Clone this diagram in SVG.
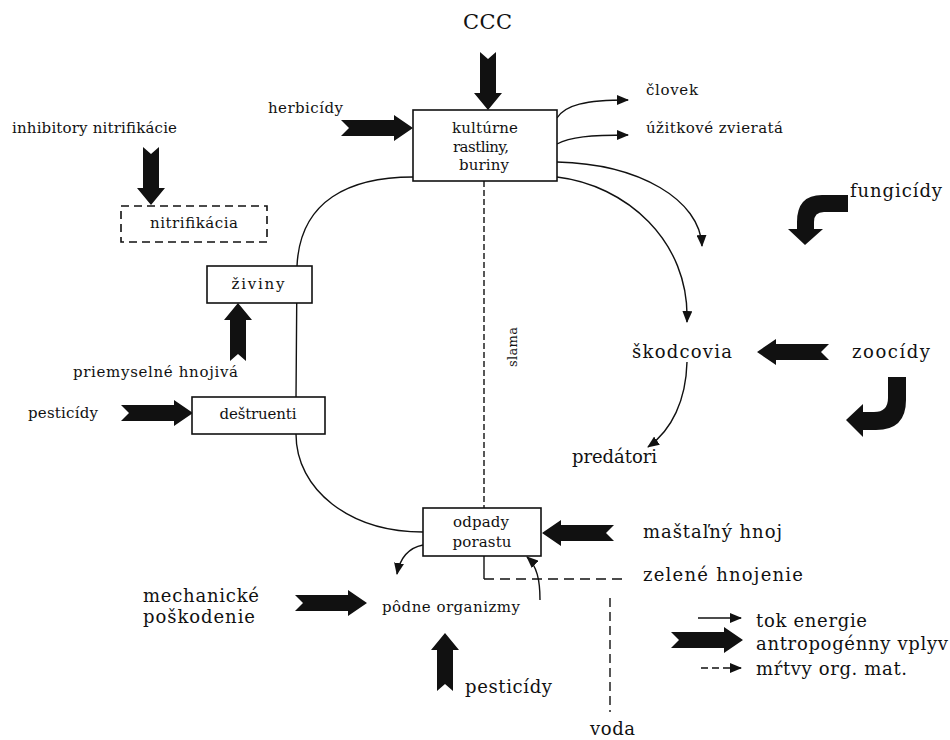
<svg xmlns="http://www.w3.org/2000/svg" xmlns:xlink="http://www.w3.org/1999/xlink" width="950" height="740" viewBox="0 0 950 740">
<style>
text{font-family:"DejaVu Serif","Liberation Serif",serif;fill:#111}
.s{font-size:15px}
.xs{font-size:13px}
.l{font-size:18px}
.box{fill:#fff;stroke:#111;stroke-width:1.6}
.ln{fill:none;stroke:#111;stroke-width:1.4}
.ar{fill:none;stroke:#111;stroke-width:1.4;marker-end:url(#ah)}
.fat{fill:#111}
</style>
<defs>
<marker id="ah" viewBox="0 0 12 10" refX="11" refY="5" markerWidth="12" markerHeight="10" markerUnits="userSpaceOnUse" orient="auto">
<path d="M0,0 L12,5 L0,10 Z" fill="#111"/>
</marker>
<path id="fa72" d="M0,0 L-19,-13 L-19,-8 L-72,-8 L-64,0 L-72,8 L-19,8 L-19,13 Z"/>
<path id="fa58" d="M0,0 L-17,-14 L-17,-8 L-58,-8 L-51,0 L-58,8 L-17,8 L-17,14 Z"/>
</defs>
<rect width="950" height="740" fill="#fff"/>

<g id="connectors">
<path class="ar" d="M557,118 C565,105 585,100 628,100"/>
<path class="ar" d="M557,144 C570,137 590,135 628,135"/>
<path class="ar" d="M557,162 C640,164 700,200 702,246"/>
<path class="ar" d="M557,177 C625,185 690,240 687,322"/>
<path class="ar" d="M687,362 C686,400 672,430 648,447"/>
<path class="ln" d="M413,177 C350,177 300,200 297,266 L296,398"/>
<path class="ln" d="M296,434 C296,490 350,532 423,532"/>
<path class="ar" d="M423,545 C408,548 400,558 397,574"/>
<path class="ar" d="M540,600 C540,580 537,566 527,557"/>
<path class="ln" d="M484,181 L484,508" stroke-dasharray="6 3"/>
<path class="ln" d="M484,556 L484,579"/>
<path class="ln" d="M484,579 L628,579" stroke-dasharray="10 6"/>
<path class="ln" d="M610,598 L610,712" stroke-dasharray="9 5"/>
<use xlink:href="#fa58" class="fat" transform="translate(488,110) rotate(90)"/>
<use xlink:href="#fa72" class="fat" transform="translate(413,128)"/>
<use xlink:href="#fa58" class="fat" transform="translate(151,205) rotate(90)"/>
<use xlink:href="#fa58" class="fat" transform="translate(238,303) rotate(-90)"/>
<use xlink:href="#fa72" class="fat" transform="translate(193,413)"/>
<use xlink:href="#fa72" class="fat" transform="translate(757,352) rotate(180)"/>
<use xlink:href="#fa72" class="fat" transform="translate(367,603)"/>
<use xlink:href="#fa58" class="fat" transform="translate(445,633) rotate(-90)"/>
<use xlink:href="#fa72" class="fat" transform="translate(542,533) rotate(180)"/>
<path class="fat" d="M848,195 L822,195 Q797,195 797,222 L797,229 L788,229 L805,245 L823,229 L814,229 L814,222 Q814,212 824,212 L848,212 Z"/>
<path class="fat" d="M888,377 L906,377 L906,400 Q906,430 876,430 L863,430 L863,437 L846,420 L863,404 L863,412 L874,412 Q888,412 888,398 Z"/>
</g>

<g id="n-kulturne">
<rect class="box" x="413" y="110" width="144" height="71"/>
<text class="s" x="485" y="133" text-anchor="middle" textLength="66">kultúrne</text>
<text class="s" x="481" y="152" text-anchor="middle" textLength="56">rastliny,</text>
<text class="s" x="484" y="170" text-anchor="middle" textLength="50">buriny</text>
</g>
<g id="n-nitrifikacia">
<rect class="box" x="121" y="206" width="146" height="36" stroke-dasharray="8 5"/>
<text class="s" x="194" y="228" text-anchor="middle" textLength="88">nitrifikácia</text>
</g>
<g id="n-ziviny">
<rect class="box" x="207" y="266" width="105" height="37"/>
<text class="s" x="258" y="289" text-anchor="middle" textLength="53">živiny</text>
</g>
<g id="n-destruenti">
<rect class="box" x="192" y="397" width="133" height="37"/>
<text class="s" x="258" y="419" text-anchor="middle" textLength="77">deštruenti</text>
</g>
<g id="n-odpady">
<rect class="box" x="423" y="508" width="118" height="48"/>
<text class="s" x="481" y="527" text-anchor="middle" textLength="56">odpady</text>
<text class="s" x="482" y="547" text-anchor="middle" textLength="59">porastu</text>
</g>

<g id="n-ccc"><text x="463" y="29" font-size="21" textLength="49">CCC</text></g>
<g id="n-herbicidy"><text class="s" x="268" y="113" textLength="75">herbicídy</text></g>
<g id="n-inhibitory"><text class="s" x="12" y="133" textLength="165">inhibitory nitrifikácie</text></g>
<g id="n-clovek"><text class="s" x="646" y="95" textLength="52">človek</text></g>
<g id="n-zvierata"><text class="s" x="646" y="133" textLength="137">úžitkové zvieratá</text></g>
<g id="n-fungicidy"><text class="l" x="850" y="197" textLength="92">fungicídy</text></g>
<g id="n-skodcovia"><text class="l" x="632" y="358" textLength="100">škodcovia</text></g>
<g id="n-zoocidy"><text class="l" x="852" y="358" textLength="78">zoocídy</text></g>
<g id="n-predatori"><text class="l" x="572" y="463" textLength="85">predátori</text></g>
<g id="n-slama"><text class="xs" transform="translate(517,347) rotate(-90)" text-anchor="middle" textLength="40">slama</text></g>
<g id="n-priemyselne"><text class="s" x="73" y="377" textLength="165">priemyselné hnojivá</text></g>
<g id="n-pesticidy1"><text class="s" x="28" y="418" textLength="70">pesticídy</text></g>
<g id="n-mechanicke">
<text class="l" x="143" y="602" textLength="116">mechanické</text>
<text class="l" x="143" y="623" textLength="112">poškodenie</text>
</g>
<g id="n-podne"><text class="s" x="382" y="612" textLength="138">pôdne organizmy</text></g>
<g id="n-pesticidy2"><text class="l" x="465" y="693" textLength="87">pesticídy</text></g>
<g id="n-mastalny"><text class="l" x="643" y="538" textLength="139">maštaľný hnoj</text></g>
<g id="n-zelene"><text class="l" x="643" y="581" textLength="160">zelené hnojenie</text></g>
<g id="n-voda"><text class="l" x="590" y="735" textLength="45">voda</text></g>

<g id="legend">
<path class="ar" d="M698,618 L741,618"/>
<use xlink:href="#fa72" class="fat" transform="translate(743,640)"/>
<path class="ar" d="M701,668 L741,668" stroke-dasharray="7 4"/>
<text class="l" x="756" y="627" textLength="111">tok energie</text>
<text class="l" x="756" y="650" textLength="192">antropogénny vplyv</text>
<text class="l" x="756" y="675" textLength="151">mŕtvy org. mat.</text>
</g>
</svg>
